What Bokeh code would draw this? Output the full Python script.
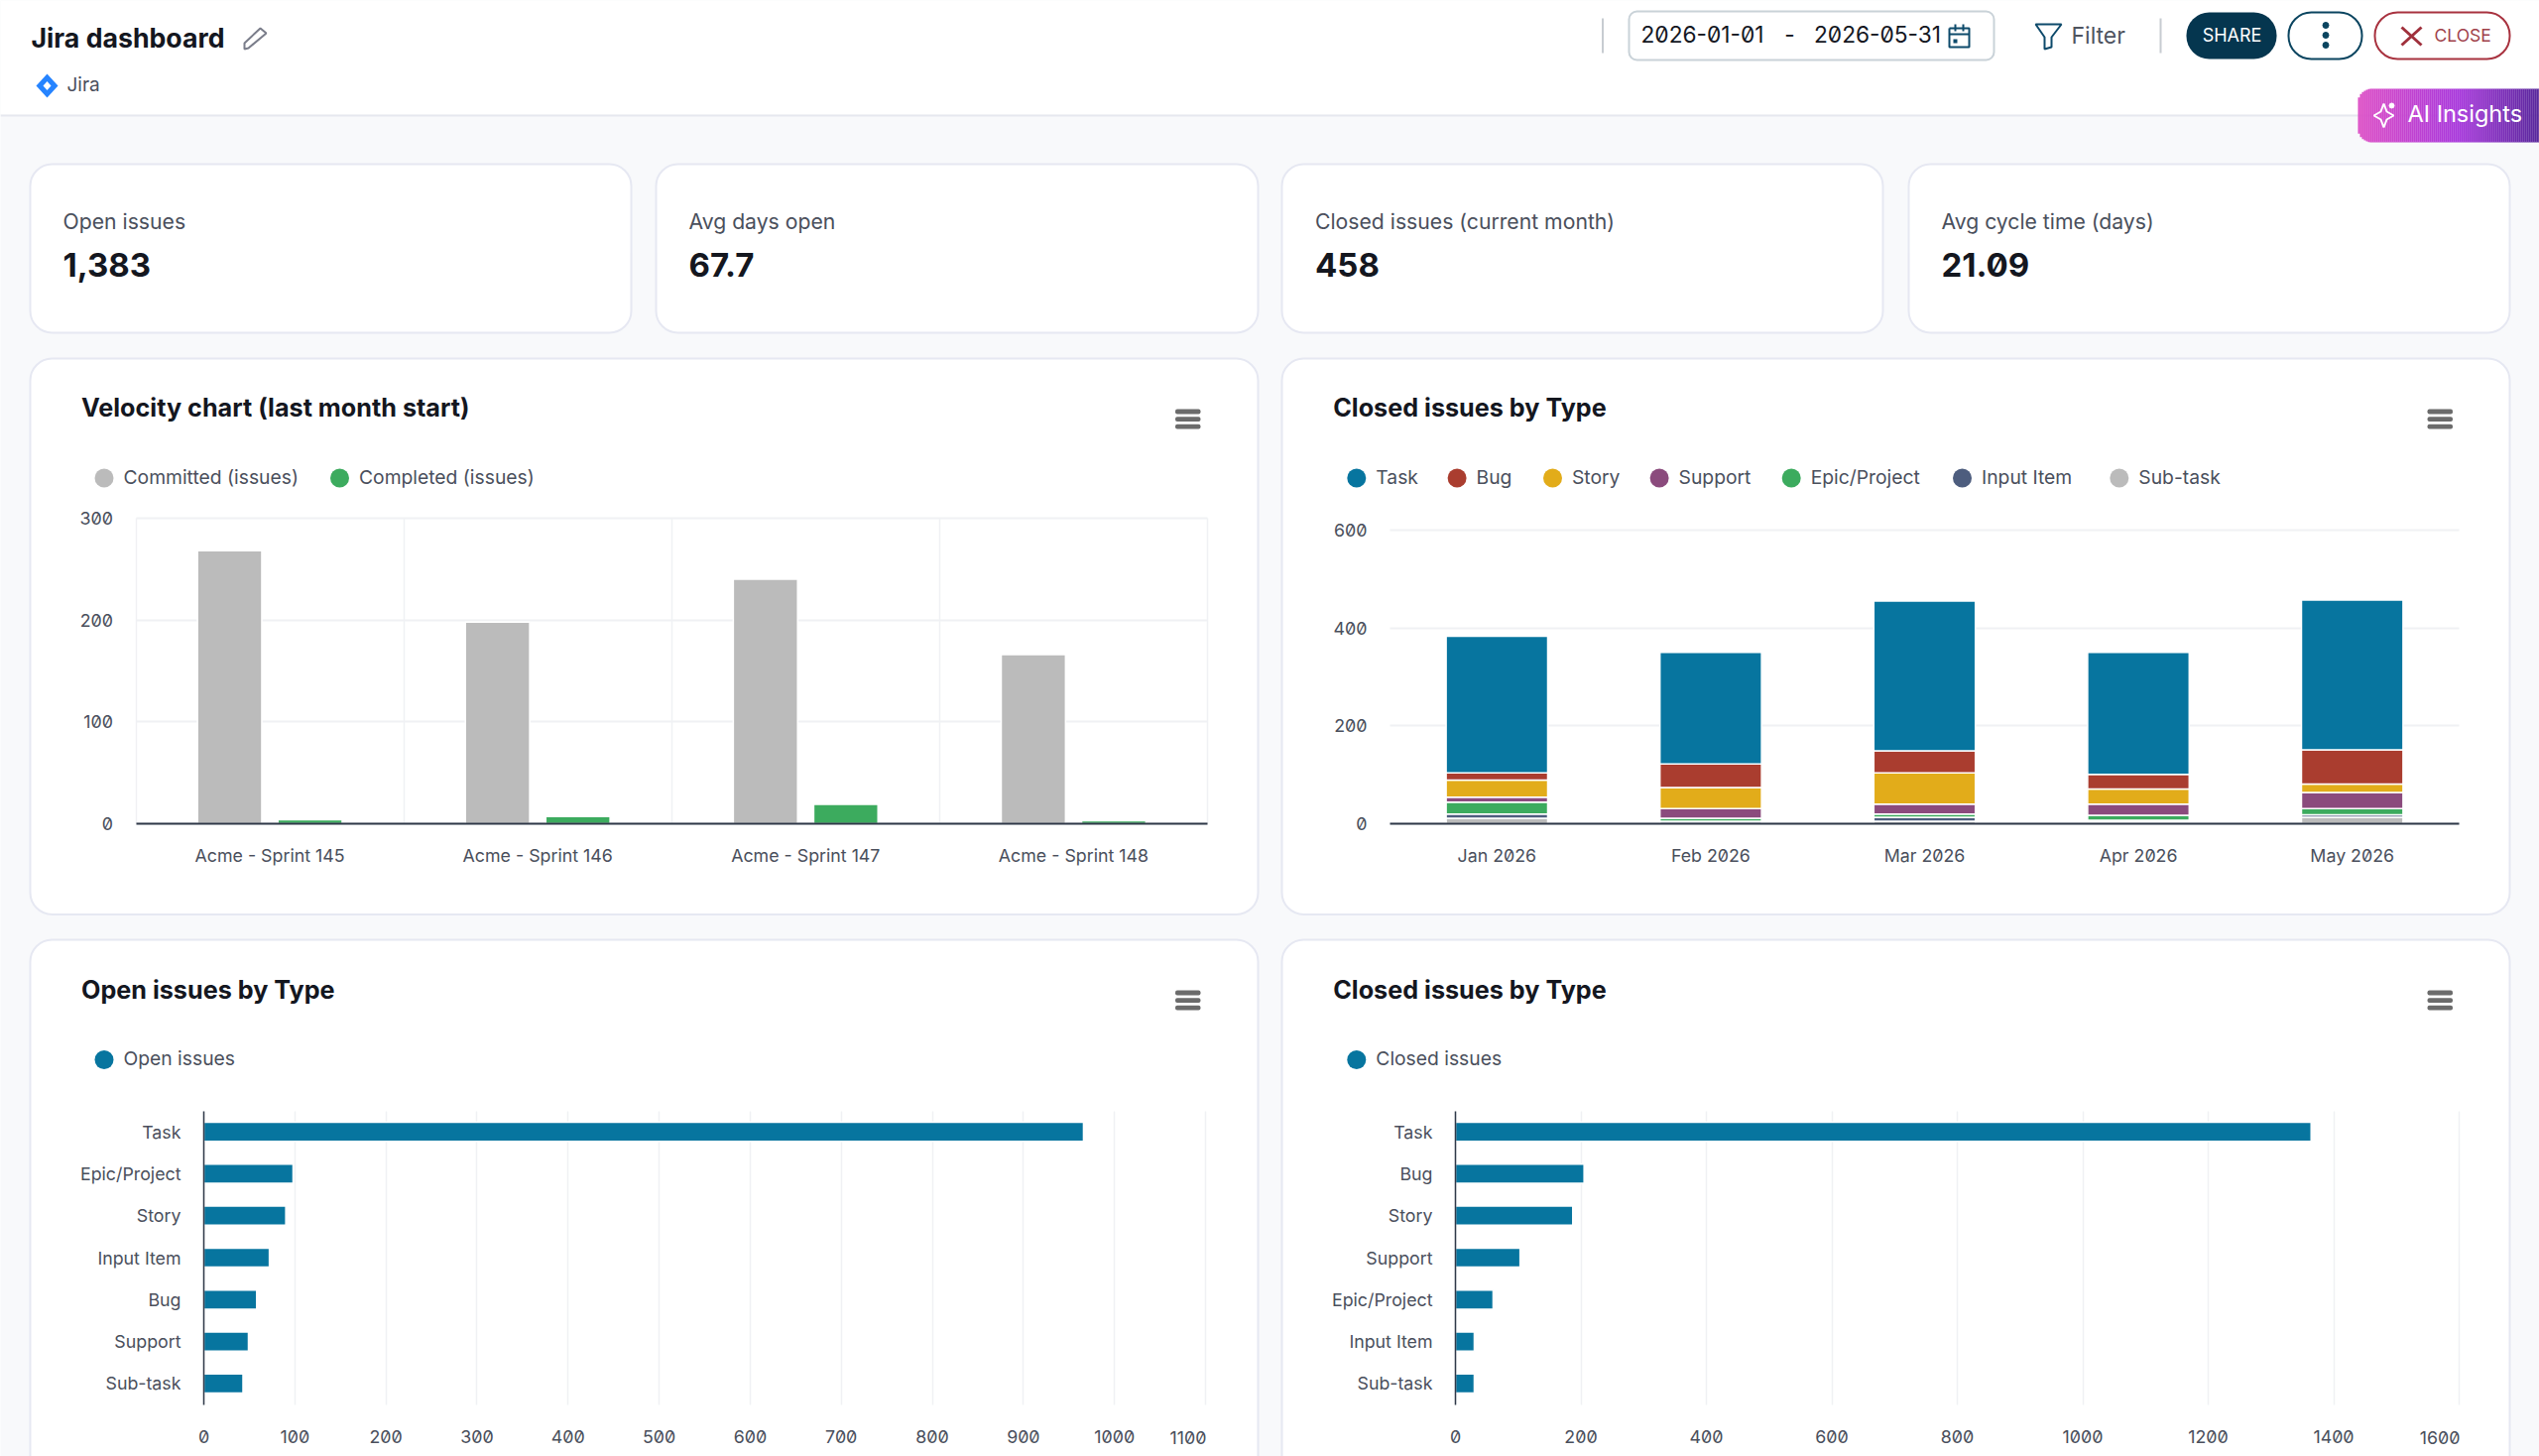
import numpy as np
from bokeh.plotting import figure
from bokeh.models import BoxAnnotation, Label, FixedTicker, Range1d, LinearAxis, Grid
from bokeh.embed import file_html
from bokeh.resources import INLINE

# ---------- data ----------
kpi_labels = ["Open issues", "Avg days open", "Closed issues (current month)", "Avg cycle time (days)"]
kpi_values = ["1,383", "67.7", "458", "21.09"]

sprints = ["Acme - Sprint 145", "Acme - Sprint 146", "Acme - Sprint 147", "Acme - Sprint 148"]
committed = [268, 198, 240, 166]
completed = [4, 7, 19, 3]
velocity_ticks = [0, 100, 200, 300]

months = ["Jan 2026", "Feb 2026", "Mar 2026", "Apr 2026", "May 2026"]
stack_names = ["Sub-task", "Input Item", "Epic/Project", "Support", "Story", "Bug", "Task"]
sub_task = [11, 1, 5, 0, 13]
input_item = [9, 4, 8, 0, 5]
epic = [24, 6, 7, 10, 13]
support = [10, 20, 20, 23, 33]
story = [35, 43, 64, 31, 17]
bug = [15, 48, 45, 30, 70]
task = [279, 228, 306, 249, 306]
apr_lift = [0, 0, 0, 7, 0]   # the Apr stack floats just above the axis in the reference
stack_ticks = [0, 200, 400, 600]

open_types = ["Task", "Epic/Project", "Story", "Input Item", "Bug", "Support", "Sub-task"]
open_values = [966, 98, 90, 72, 58, 49, 43]
open_ticks = list(range(0, 1200, 100))

closed_types = ["Task", "Bug", "Story", "Support", "Epic/Project", "Input Item", "Sub-task"]
closed_values = [1364, 205, 187, 103, 60, 30, 30]
closed_ticks = list(range(0, 1800, 200))

# ---------- style ----------
FONT = "Inter"
PAGE = "#f8f9fb"
CARD_LINE = "#e6e8f2"
GRID = "#f0f1f4"
TXT = "#4a4f5c"
DARK = "#14171f"
AXIS = "#2f3848"
TEAL = "#07759f"
COLORS = {"Task": TEAL, "Bug": "#aa3d2f", "Story": "#e2ac1a", "Support": "#8b4b7d",
          "Epic/Project": "#3cab5e", "Input Item": "#4d5d7e", "Sub-task": "#bbbbbb"}
GREY = "#bbbbbb"
GREEN = "#3cab5e"
W, H = 2560, 1468
TICK_PX = 17.8

p = figure(width=W, height=H, x_range=Range1d(0, W), y_range=Range1d(H, 0), output_backend="svg",
           toolbar_location=None, min_border=0, x_axis_location=None, y_axis_location=None,
           border_fill_color=PAGE, background_fill_color=PAGE, outline_line_color=None,
           styles={"position": "absolute", "left": "0px", "top": "0px", "font-feature-settings": '"zero"'},
           stylesheets=['svg text{font-feature-settings:"zero" 1 !important}'])
p.xgrid.visible = False
p.ygrid.visible = False


def xr(P0, D0, P1, D1):
    k = (D1 - D0) / (P1 - P0)
    return Range1d(start=D0 - P0 * k, end=D0 + (W - P0) * k)


def yr(P0, D0, P1, D1):
    k = (D1 - D0) / (P1 - P0)
    return Range1d(start=D0 + (H - P0) * k, end=D0 - P0 * k)


def box(x0, y0, x1, y1, fill, line=None, lw=1, radius=0, level="underlay"):
    p.add_layout(BoxAnnotation(left=x0, right=x1, top=y0, bottom=y1, fill_color=fill, fill_alpha=1,
                               line_color=line, line_width=lw, line_alpha=1 if line else 0,
                               border_radius=radius, level=level), "center")


def text(x, y, s, size, color=TXT, style="normal", align="left"):
    p.add_layout(Label(x=x, y=y - 1.2, text=s, text_font=FONT, text_font_size=f"{size}px", text_color=color,
                       text_font_style=style, text_align=align, text_baseline="middle"), "center")


def x_axis(xn, yn, ticker, bounds, overrides=None, line=True, standoff=15):
    a = LinearAxis(x_range_name=xn, y_range_name=yn, fixed_location=0, ticker=FixedTicker(ticks=ticker),
                   bounds=bounds, major_tick_line_color=None, minor_tick_line_color=None,
                   major_label_text_font=FONT, major_label_text_font_size=f"{TICK_PX}px",
                   major_label_text_color=TXT, major_label_standoff=standoff,
                   axis_line_color=AXIS if line else None, axis_line_width=2)
    if overrides:
        a.major_label_overrides = overrides
    p.add_layout(a, "below")


def y_axis(xn, yn, ticker, bounds, loc=0, overrides=None, line=False):
    a = LinearAxis(x_range_name=xn, y_range_name=yn, fixed_location=loc, ticker=FixedTicker(ticks=ticker),
                   bounds=bounds, major_tick_line_color=None, minor_tick_line_color=None,
                   major_label_text_font=FONT, major_label_text_font_size=f"{TICK_PX}px",
                   major_label_text_color=TXT, major_label_standoff=17,
                   axis_line_color=AXIS if line else None, axis_line_width=1.5)
    if overrides:
        a.major_label_overrides = overrides
    p.add_layout(a, "left")


def grid(dim, xn, yn, ticks, cross, width):
    p.add_layout(Grid(dimension=dim, x_range_name=xn, y_range_name=yn, ticker=FixedTicker(ticks=ticks),
                      cross_bounds=cross, grid_line_color=GRID, grid_line_width=width, level="underlay"), "center")


# ---------- page chrome: header and KPI cards ----------
box(0, 0, W, 115, "white")
box(0, 115, W, 117, "#e6e8ef")
card_x = [(30, 636), (661, 1268), (1292, 1898), (1924, 2530)]
text_x = [63, 694, 1325.5, 1957]
for (a, b), tx, lab, val in zip(card_x, text_x, kpi_labels, kpi_values):
    box(a, 165, b, 335, "white", CARD_LINE, 2, 22)
    text(tx, 224, lab, 21.2, TXT)
    text(tx, 268, val, 33, DARK, "bold")

text(31, 38.5, "Jira dashboard", 26.7, DARK, "bold")
p.patch([262, 268, 250, 246, 246], [28, 33, 48, 49, 43], fill_color=None, line_color="#7a7d8a", line_width=2)
p.patch([47, 58, 47, 36], [74, 86, 98, 86], fill_color="#2684ff", line_color=None)
p.patch([47, 51, 47, 43], [81.5, 86, 90.5, 86], fill_color="white", line_color=None)
text(67, 86, "Jira", 19, TXT)

for xd in (1615.5, 2178):
    box(xd - 1, 18, xd + 1, 53, "#c7ccd1")
box(1642, 11, 2010, 60, "white", "#c9d2d8", 2, 8)
text(1654, 35.5, "2026-01-01", 22.7, DARK)
text(1804, 35.5, "-", 22.7, DARK, align="center")
text(1828.5, 35.5, "2026-05-31", 22.7, DARK)
p.multi_line([[1965, 1985, 1985, 1965, 1965], [1965, 1985], [1971, 1971], [1979, 1979]],
             [[28, 28, 47, 47, 28], [34, 34], [24, 31], [24, 31]], line_color="#0d4a6b", line_width=2)
p.rect([1971], [41], 4, 4, fill_color="#0d4a6b", line_color=None)
p.patch([2052, 2078, 2068, 2068, 2061, 2061], [24, 24, 37, 47, 49, 37], fill_color=None,
        line_color="#0d4a6b", line_width=2)
text(2088, 36.5, "Filter", 23, "#4f545f")
box(2204, 12, 2295, 59, "#05364f", None, 1, 23)
text(2250, 36, "SHARE", 18, "white", "normal", "center")
box(2307, 12, 2381, 59, "white", "#0b4560", 2, 23)
p.scatter([2344.5] * 3, [25, 35, 45], size=6, color="#0b4560")
box(2394, 12, 2530, 59, "white", "#a8323f", 2, 23)
p.multi_line([[2421, 2441], [2441, 2421]], [[27, 45], [27, 45]], line_color="#a0303c", line_width=3)
text(2454, 36, "CLOSE", 17.5, "#a0414a")

# AI Insights button (horizontal colour blend in thin strips)
stops = [(0.0, (221, 79, 198)), (0.55, (168, 56, 220)), (1.0, (88, 40, 155))]
sx = np.arange(2377, 2560, 2.0)
rc = 14.0
sy0, sy1, sc = [], [], []
for xx in sx:
    d = max(0.0, rc - (xx + 1 - 2377))
    off = rc - np.sqrt(max(rc * rc - d * d, 0))
    t = (xx - 2377) / 183
    col = [int(np.interp(t, [s[0] for s in stops], [s[1][k] for s in stops])) for k in range(3)]
    sc.append("#%02x%02x%02x" % tuple(col))
    sy0.append(89 + off)
    sy1.append(143 - off)
p.quad(left=sx, right=sx + 2.2, top=sy0, bottom=sy1, fill_color=sc, line_color=None)
p.patch([2403, 2406, 2413, 2406, 2403, 2400, 2393, 2400], [104, 112, 116, 120, 128, 120, 116, 112],
        fill_color=None, line_color="white", line_width=2)
p.scatter([2411], [106], size=5, marker="circle", color="white")
text(2427, 115, "AI Insights", 23.5, "white")


def card(cx0, cx1, cy0, cy1, title, title_x, title_y, burger_x, burger_y, legend):
    box(cx0, cy0, cx1, cy1, "white", CARD_LINE, 2, 22)
    text(title_x, title_y, title, 25.2, DARK, "bold")
    for i in range(3):
        yy = burger_y + i * 7.6
        box(burger_x, yy - 2.4, burger_x + 25.5, yy + 2.4, "#6b6b6b", radius=2, level="annotation")
    for name, color, dot_x, dot_y in legend:
        box(dot_x - 9.5, dot_y - 9.5, dot_x + 9.5, dot_y + 9.5, color, radius=10, level="annotation")
        text(dot_x + 19.5, dot_y, name, 19.3, TXT)


# ---------- velocity chart ----------
card(30, 1268, 361, 921.5, "Velocity chart (last month start)", 81.5, 412, 1184.5, 414.5,
     [("Committed (issues)", GREY, 104.5, 481.5), ("Completed (issues)", GREEN, 342, 481.5)])
p.extra_x_ranges["x1"] = xr(136.5, 0, 1217, len(sprints))
p.extra_y_ranges["y1"] = yr(830, 0, 522, 300)
x_pos = np.arange(len(sprints)) + 0.5
grid(0, "x1", "y1", list(range(len(sprints) + 1)), (0, 300), 1.5)
grid(1, "x1", "y1", velocity_ticks, (0, len(sprints)), 2)
p.vbar(x=x_pos - 0.15, top=committed, width=0.24, fill_color=GREY, line_color="white", line_width=1.5,
       x_range_name="x1", y_range_name="y1")
p.vbar(x=x_pos + 0.15, top=completed, width=0.24, fill_color=GREEN, line_color="white", line_width=1.5,
       x_range_name="x1", y_range_name="y1")
x_axis("x1", "y1", list(x_pos), (0, len(sprints)), {float(v): s for v, s in zip(x_pos, sprints)})
y_axis("x1", "y1", velocity_ticks, (0, 300))

# ---------- closed by type, stacked ----------
legend_names = ["Task", "Bug", "Story", "Support", "Epic/Project", "Input Item", "Sub-task"]
legend_x = [1367.3, 1468.6, 1565, 1672.6, 1805.7, 1978, 2136.3]
card(1292, 2530, 361, 921.5, "Closed issues by Type", 1343.7, 412, 2447, 414.5,
     [(n, COLORS[n], x, 481.5) for n, x in zip(legend_names, legend_x)])
p.extra_x_ranges["x2"] = xr(1401, 0, 2479, len(months))
p.extra_y_ranges["y2"] = yr(830, 0, 534, 600)
m_pos = np.arange(len(months)) + 0.5
grid(1, "x2", "y2", stack_ticks, (0, len(months)), 2)
series = [sub_task, input_item, epic, support, story, bug, task]
base = np.array(apr_lift, dtype=float)
for name, vals in zip(stack_names, series):
    tops = base + np.array(vals, dtype=float)
    p.vbar(x=m_pos, bottom=base, top=tops, width=0.475, fill_color=COLORS[name],
           line_color="white", line_width=1.5, x_range_name="x2", y_range_name="y2")
    base = tops
x_axis("x2", "y2", list(m_pos), (0, len(months)), {float(v): s for v, s in zip(m_pos, months)})
y_axis("x2", "y2", stack_ticks, (0, 600))


# ---------- horizontal bar charts ----------
def hbars(key, cats, vals, ticks, x0_px, xend_px, title, title_x, bx, legend_name, dot_x, cx0, cx1):
    xn, yn = "x" + key, "y" + key
    card(cx0, cx1, 947, 1500, title, title_x, 999, bx, 1000.5, [(legend_name, TEAL, dot_x, 1068)])
    p.extra_x_ranges[xn] = xr(x0_px, 0, xend_px, ticks[-1])
    p.extra_y_ranges[yn] = yr(1119.5, 0, 1415.5, len(cats))
    pos = np.arange(len(cats)) + 0.5
    grid(0, xn, yn, ticks, (0, len(cats)), 1.5)
    p.hbar(y=pos, right=vals, height=0.454, fill_color=TEAL, line_color="white", line_width=1.5,
           x_range_name=xn, y_range_name=yn)
    a = LinearAxis(x_range_name=xn, y_range_name=yn, fixed_location=len(cats), ticker=FixedTicker(ticks=ticks),
                   bounds=(0, ticks[-1]), major_tick_line_color=None, minor_tick_line_color=None,
                   major_label_text_font=FONT, major_label_text_font_size=f"{TICK_PX}px",
                   major_label_text_color=TXT, major_label_standoff=20, axis_line_color=None,
                   major_label_overrides={ticks[-1]: ""})
    p.add_layout(a, "below")
    y_axis(xn, yn, list(pos), (0, len(cats)), overrides={float(v): s for v, s in zip(pos, cats)}, line=True)
    text(xend_px + 1, 1450, str(ticks[-1]), TICK_PX, TXT, align="right")


hbars("3", open_types, open_values, open_ticks, 205, 1215, "Open issues by Type", 81.5, 1184.5,
      "Open issues", 104.5, 30, 1268)
hbars("4", closed_types, closed_values, closed_ticks, 1467, 2479, "Closed issues by Type", 1343.7, 2447,
      "Closed issues", 1367.3, 1292, 2530)

open("out.html", "w").write(file_html(p, INLINE))
